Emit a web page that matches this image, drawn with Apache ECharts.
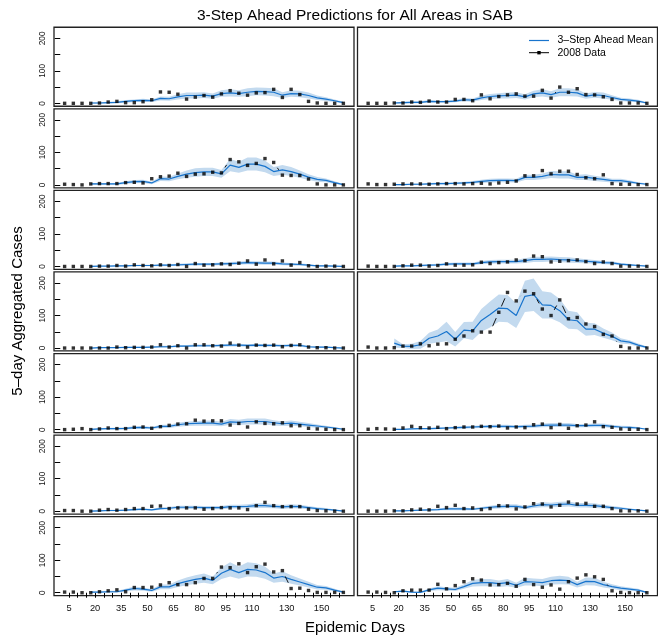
<!DOCTYPE html>
<html><head><meta charset="utf-8">
<script src="https://cdn.jsdelivr.net/npm/echarts@6/dist/echarts.min.js"></script>
<style>html,body{margin:0;padding:0;background:#fff}#c{width:658px;height:641px}</style>
</head><body><div id="c"></div>
<script>
// ---- data ----
const days = [2.5,7.5,12.5,17.5,22.5,27.5,32.5,37.5,42.5,47.5,52.5,57.5,62.5,67.5,72.5,77.5,82.5,87.5,92.5,97.5,102.5,107.5,112.5,117.5,122.5,127.5,132.5,137.5,142.5,147.5,152.5,157.5,162.5];
const xTicks = [5,10,15,20,25,30,35,40,45,50,55,60,65,70,75,80,85,90,95,100,105,110,115,120,125,130,135,140,145,150,155,160];
const xLabels = [5,20,35,50,65,80,95,110,130,150];
const yTicks = [0,50,100,150,200];
const yLabels = [0,100,200];

// observed 2008 data (33 values per area)
const obsL1 = [0,0,0,0,1,4,6,2,2,5,11,35,34,28,13,19,24,19,29,39,31,25,32,33,43,18,43,27,6,1,0,0,0];
const obsR1 = [0,0,0,1,1,4,3,7,4,4,12,12,8,26,14,21,26,29,22,22,40,16,50,34,45,27,26,20,12,1,1,1,0];
const obsL2 = [2,1,0,3,4,4,4,7,8,6,19,25,27,36,26,33,34,39,37,78,71,60,66,81,69,30,29,29,18,3,0,0,0];
const obsR2 = [3,1,1,2,3,3,3,2,3,4,4,3,4,5,3,6,8,12,28,28,44,34,42,42,32,22,19,31,4,2,2,1,1];
const obsL3 = [0,0,0,0,1,1,3,1,5,3,2,5,3,6,0,9,4,5,8,6,10,17,7,20,8,17,4,12,2,0,1,1,0];
const obsR3 = [1,0,0,0,2,4,4,1,3,8,4,4,5,13,9,12,14,20,18,32,30,14,16,18,20,15,9,14,9,1,1,1,0];
const obsL4 = [0,0,0,0,0,0,3,1,2,2,3,10,3,7,0,10,10,7,6,15,9,3,9,8,9,4,8,10,3,1,1,0,0];
const obsR4 = [3,0,0,1,6,6,13,7,12,13,27,37,53,49,49,110,171,145,175,167,120,100,148,90,94,74,66,42,37,5,0,0,0];
const obsL5 = [0,1,3,0,2,5,3,3,7,8,4,9,13,17,18,29,26,27,27,14,19,8,24,19,18,21,12,12,4,2,1,0,0];
const obsR5 = [1,3,2,1,5,10,6,5,7,3,6,8,8,10,9,11,5,8,6,15,17,6,16,4,12,14,24,9,7,2,1,1,0];
const obsL6 = [2,2,0,0,3,5,3,5,8,8,15,16,8,10,10,10,6,8,11,10,10,5,17,27,17,14,14,14,6,2,1,0,0];
const obsR6 = [0,0,0,1,1,4,6,4,15,11,18,8,10,5,8,17,16,7,13,23,22,13,18,28,22,24,15,15,8,1,1,1,0];
const obsL7 = [2,2,0,0,3,6,9,3,16,16,17,24,31,25,25,31,44,44,79,77,89,62,80,88,64,68,13,14,7,1,1,1,1];
const obsR7 = [2,2,1,0,6,8,8,8,26,12,22,34,43,39,24,25,29,20,41,25,17,24,11,34,45,55,49,41,6,1,0,0,0];

// 3-step ahead mean (starts at 4th period)
const meanL1 = [null,null,null,1,1,2,3,6,8,9,8,15,14,20,24,24,25,22,30,32,30,34,37,36,34,25,30,29,24,17,13,8,2];
const meanR1 = [null,null,null,1,2,3,3,6,5,5,7,11,10,17,21,23,24,25,20,29,32,27,34,34,32,22,26,24,18,12,10,7,1];
const meanL2 = [null,null,null,3,3,3,3,7,10,11,6,19,18,26,33,38,40,40,34,61,54,64,64,57,41,46,41,33,24,17,14,7,1];
const meanR2 = [null,null,null,1,1,2,2,3,4,4,5,6,8,11,13,14,14,13,23,23,26,32,31,31,23,24,20,17,13,13,9,5,2];
const meanL3 = [null,null,null,0,1,1,2,2,3,3,3,4,4,5,6,7,7,7,8,9,10,12,11,10,10,8,7,6,4,2,2,1,0];
const meanR3 = [null,null,null,1,2,2,3,4,5,7,8,8,8,12,14,15,15,15,18,22,22,23,21,20,18,16,14,12,11,7,5,3,1];
const meanL4 = [null,null,null,0,1,1,1,2,2,2,3,4,4,6,6,7,7,7,8,9,9,8,9,8,8,7,8,8,4,3,3,1,0];
const meanR4 = [null,null,null,15,6,5,10,30,37,51,27,55,53,85,103,123,121,100,159,164,133,131,115,87,84,58,58,46,36,22,18,9,2];
const meanL5 = [null,null,null,1,2,3,3,4,6,7,5,10,10,15,18,19,20,20,17,24,22,25,25,25,21,18,20,17,14,11,8,5,1];
const meanR5 = [null,null,null,1,1,2,3,3,4,5,6,7,8,9,10,10,10,9,10,11,13,14,14,14,12,12,13,13,10,8,7,5,1];
const meanL6 = [null,null,null,0,1,2,2,3,5,6,4,8,9,12,12,12,11,11,11,14,14,15,17,17,15,13,15,14,11,8,6,3,0];
const meanR6 = [null,null,null,1,1,2,3,4,5,7,7,7,6,9,12,14,15,15,11,16,20,19,21,22,18,18,17,14,11,9,6,3,1];
const meanL7 = [null,null,null,2,2,3,3,8,13,11,7,18,18,28,35,41,45,38,60,72,62,72,70,62,45,50,41,33,25,17,15,8,2];
const meanR7 = [null,null,null,3,5,2,1,9,14,12,10,19,29,31,31,28,31,23,34,33,31,37,39,37,25,35,34,25,19,14,11,8,1];

// half-width of the prediction band
const sprL1 = [null,null,null,2,2,3,3,4,4,5,4,6,6,8,9,9,9,8,10,11,10,12,12,12,12,9,10,10,9,7,6,4,3];
const sprR1 = [null,null,null,2,3,3,3,4,3,3,4,5,5,7,8,8,9,9,8,10,11,10,12,12,11,8,9,9,7,5,5,4,2];
const sprL2 = [null,null,null,3,3,3,3,4,5,5,4,7,7,9,11,13,13,13,12,19,17,20,20,18,14,15,14,11,9,7,6,4,2];
const sprR2 = [null,null,null,2,2,2,2,3,3,3,3,4,4,5,6,6,6,6,8,8,9,11,11,11,8,9,8,7,6,6,5,3,2];
const sprL3 = [null,null,null,1,1,1,2,2,2,2,2,3,3,3,4,4,4,4,4,5,5,5,5,5,5,4,4,4,3,2,2,1,1];
const sprR3 = [null,null,null,1,2,2,3,3,3,4,4,4,4,5,6,6,6,6,7,8,8,8,8,8,7,6,6,5,5,4,3,2,1];
const sprL4 = [null,null,null,1,1,1,1,2,2,2,2,3,3,3,3,4,4,4,4,4,4,4,4,4,4,4,4,4,3,2,2,1,1];
const sprR4 = [null,null,null,14,6,8,12,17,20,30,22,25,28,35,40,42,42,38,48,50,42,40,36,28,26,20,18,14,12,8,6,5,3];
const sprL5 = [null,null,null,2,2,3,3,3,4,4,3,5,5,6,7,7,8,8,7,9,8,9,9,9,8,7,8,7,6,5,4,3,2];
const sprR5 = [null,null,null,1,1,2,2,2,3,3,3,4,4,4,5,5,5,4,5,5,6,6,6,6,5,5,6,6,5,4,4,3,1];
const sprL6 = [null,null,null,1,1,2,2,2,3,3,3,4,4,5,5,5,5,5,5,6,6,6,7,7,6,6,6,6,5,4,4,2,1];
const sprR6 = [null,null,null,1,1,2,2,3,3,4,4,4,3,4,5,6,6,6,5,6,8,7,8,8,7,7,7,6,5,4,3,2,1];
const sprL7 = [null,null,null,2,2,3,3,4,6,5,4,7,7,10,12,13,14,12,18,22,19,22,21,19,14,16,13,11,9,7,6,4,2];
const sprR7 = [null,null,null,2,3,2,2,4,6,5,5,7,10,11,11,10,11,8,12,11,11,12,13,12,9,12,12,9,7,6,5,4,2];

// panels in row-major order (left, right)
const panels = [
  [obsL1,meanL1,sprL1],[obsR1,meanR1,sprR1],
  [obsL2,meanL2,sprL2],[obsR2,meanR2,sprR2],
  [obsL3,meanL3,sprL3],[obsR3,meanR3,sprR3],
  [obsL4,meanL4,sprL4],[obsR4,meanR4,sprR4],
  [obsL5,meanL5,sprL5],[obsR5,meanR5,sprR5],
  [obsL6,meanL6,sprL6],[obsR6,meanR6,sprR6],
  [obsL7,meanL7,sprL7],[obsR7,meanR7,sprR7]
];

// ---- style ----
const FONT = '"Liberation Sans", Arial, Helvetica, sans-serif';
const MEAN = '#1874CD';
const BAND = '#c3daef';
const GAP = 6.4;
const ROW_TOP = 27.25, ROW_STEP = 81.57, ROW_H = 79;
const COL_LEFT = [54, 357.5], COL_W = 300;
const EMPTY = {type: 'group', children: []};

const grids = [], xAxes = [], yAxes = [], series = [];
panels.forEach((p, i) => {
  const row = Math.floor(i / 2), col = i % 2;
  const bottom = row === 6, left = col === 0;
  grids.push({left: COL_LEFT[col], top: ROW_TOP + row * ROW_STEP, width: COL_W, height: ROW_H,
    show: true, borderColor: '#222', borderWidth: 1.3, backgroundColor: 'transparent', containLabel: false});
  xAxes.push({type: 'value', gridIndex: i, min: -3.6, max: 168.6,
    axisLine: {show: false}, splitLine: {show: false},
    axisTick: {show: bottom, length: 5, lineStyle: {color: '#000', width: 1}, customValues: xTicks},
    axisLabel: {show: bottom, customValues: xLabels, fontFamily: FONT, fontSize: 9.3, color: '#111', margin: 8}});
  yAxes.push({type: 'value', gridIndex: i, min: -9, max: 234,
    axisLine: {show: false}, splitLine: {show: false},
    axisTick: {show: left, length: 5.5, lineStyle: {color: '#000', width: 1}, customValues: yTicks},
    axisLabel: {show: left, customValues: yLabels, rotate: 90, fontFamily: FONT, fontSize: 8.4, color: '#111', margin: 7.5}});

  const [obs, mean, spr] = p;
  const band = [], mn = [];
  days.forEach((d, k) => {
    if (mean[k] == null) return;
    band.push([d, mean[k] - spr[k], mean[k] + spr[k]]);
    mn.push([d, mean[k]]);
  });
  // prediction band as one polygon, placed with the axis scales
  series.push({type: 'custom', xAxisIndex: i, yAxisIndex: i, data: band, silent: true, animation: false, z: 1,
    clip: true, encode: {x: 0, y: [1, 2]},
    renderItem: (params, api) => {
      if (params.dataIndex !== 0) return EMPTY;
      const top = band.map(b => api.coord([b[0], b[2]]));
      const bot = band.map(b => api.coord([b[0], b[1]])).reverse();
      return {type: 'polygon', shape: {points: top.concat(bot)}, style: {fill: BAND}};
    }});
  series.push({type: 'line', xAxisIndex: i, yAxisIndex: i, data: mn, symbol: 'none',
    lineStyle: {color: MEAN, width: 1.2}, silent: true, animation: false, z: 3});
  const segs = [];
  for (let k = 0; k < obs.length - 1; k++) segs.push([days[k], obs[k], days[k + 1], obs[k + 1]]);
  series.push({type: 'custom', xAxisIndex: i, yAxisIndex: i, data: segs, silent: true, animation: false, z: 4,
    encode: {x: [0, 2], y: [1, 3]},
    renderItem: (params, api) => {
      const p1 = api.coord([api.value(0), api.value(1)]);
      const p2 = api.coord([api.value(2), api.value(3)]);
      const dx = p2[0] - p1[0], dy = p2[1] - p1[1];
      const d = Math.hypot(dx, dy);
      if (d <= 2 * GAP) return EMPTY;
      const ux = dx / d, uy = dy / d;
      return {type: 'line', shape: {x1: p1[0] + ux * GAP, y1: p1[1] + uy * GAP, x2: p2[0] - ux * GAP, y2: p2[1] - uy * GAP},
        style: {stroke: '#000', lineWidth: 0.9}};
    }});
  series.push({type: 'scatter', xAxisIndex: i, yAxisIndex: i, data: days.map((d, k) => [d, obs[k]]),
    symbol: 'rect', symbolSize: 3.4, itemStyle: {color: '#000'}, silent: true, animation: false, z: 5});
});

const chart = echarts.init(document.getElementById('c'), null, {renderer: 'canvas'});
chart.setOption({
  animation: false,
  backgroundColor: '#fff',
  grid: grids, xAxis: xAxes, yAxis: yAxes, series: series,
  graphic: [
    {type: 'text', x: 355, y: 16, style: {text: '3-Step Ahead Predictions for All Areas in SAB', font: '15.5px ' + FONT, fill: '#000', align: 'center', verticalAlign: 'middle'}},
    {type: 'text', x: 355, y: 628, style: {text: 'Epidemic Days', font: '15px ' + FONT, fill: '#000', align: 'center', verticalAlign: 'middle'}},
    {type: 'text', x: 18, y: 311, rotation: Math.PI / 2, style: {text: '5–day Aggregated Cases', font: '15px ' + FONT, fill: '#000', align: 'center', verticalAlign: 'middle'}},
    {type: 'line', shape: {x1: 529, y1: 40.5, x2: 549, y2: 40.5}, style: {stroke: MEAN, lineWidth: 1.2}},
    {type: 'text', x: 557.5, y: 40.5, style: {text: '3–Step Ahead Mean', font: '10.5px ' + FONT, fill: '#000', align: 'left', verticalAlign: 'middle'}},
    {type: 'line', shape: {x1: 529, y1: 52.7, x2: 549, y2: 52.7}, style: {stroke: '#000', lineWidth: 1}},
    {type: 'rect', shape: {x: 537.3, y: 51, width: 3.4, height: 3.4}, style: {fill: '#000'}},
    {type: 'text', x: 557.5, y: 52.7, style: {text: '2008 Data', font: '10.5px ' + FONT, fill: '#000', align: 'left', verticalAlign: 'middle'}}
  ]
});
</script></body></html>
